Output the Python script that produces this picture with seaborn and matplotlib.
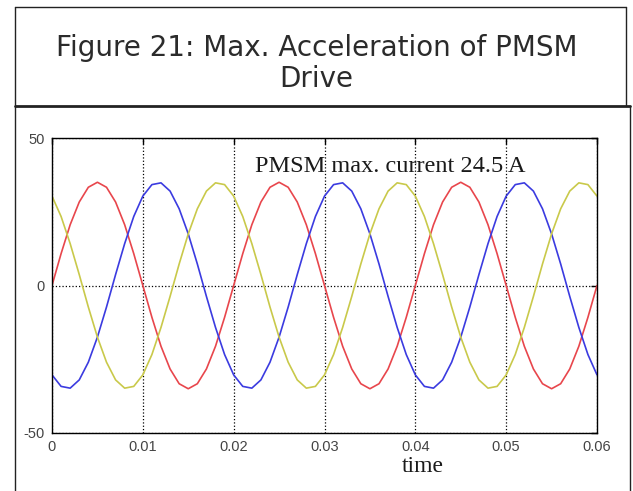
import numpy as np
import pandas as pd
import seaborn as sns
import matplotlib.pyplot as plt
from matplotlib.lines import Line2D

# phase currents, one sample per millisecond (0 .. 0.06 s)
time_s = np.round(np.arange(61) * 0.001, 3)

phase_red = [0.0, 10.8, 20.6, 28.3, 33.3, 35.0, 33.3, 28.3, 20.6, 10.8,
             0.0, -10.8, -20.6, -28.3, -33.3, -35.0, -33.3, -28.3, -20.6, -10.8,
             0.0, 10.8, 20.6, 28.3, 33.3, 35.0, 33.3, 28.3, 20.6, 10.8,
             0.0, -10.8, -20.6, -28.3, -33.3, -35.0, -33.3, -28.3, -20.6, -10.8,
             0.0, 10.8, 20.6, 28.3, 33.3, 35.0, 33.3, 28.3, 20.6, 10.8,
             0.0, -10.8, -20.6, -28.3, -33.3, -35.0, -33.3, -28.3, -20.6, -10.8,
             0.0]

phase_blue = [-30.3, -34.2, -34.8, -32.0, -26.0, -17.5, -7.3, 3.7, 14.2, 23.4,
              30.3, 34.2, 34.8, 32.0, 26.0, 17.5, 7.3, -3.7, -14.2, -23.4,
              -30.3, -34.2, -34.8, -32.0, -26.0, -17.5, -7.3, 3.7, 14.2, 23.4,
              30.3, 34.2, 34.8, 32.0, 26.0, 17.5, 7.3, -3.7, -14.2, -23.4,
              -30.3, -34.2, -34.8, -32.0, -26.0, -17.5, -7.3, 3.7, 14.2, 23.4,
              30.3, 34.2, 34.8, 32.0, 26.0, 17.5, 7.3, -3.7, -14.2, -23.4,
              -30.3]

phase_yellow = [30.3, 23.4, 14.2, 3.7, -7.3, -17.5, -26.0, -32.0, -34.8, -34.2,
                -30.3, -23.4, -14.2, -3.7, 7.3, 17.5, 26.0, 32.0, 34.8, 34.2,
                30.3, 23.4, 14.2, 3.7, -7.3, -17.5, -26.0, -32.0, -34.8, -34.2,
                -30.3, -23.4, -14.2, -3.7, 7.3, 17.5, 26.0, 32.0, 34.8, 34.2,
                30.3, 23.4, 14.2, 3.7, -7.3, -17.5, -26.0, -32.0, -34.8, -34.2,
                -30.3, -23.4, -14.2, -3.7, 7.3, 17.5, 26.0, 32.0, 34.8, 34.2,
                30.3]

x_ticks = [0, 0.01, 0.02, 0.03, 0.04, 0.05, 0.06]
x_labels = ['0', '0.01', '0.02', '0.03', '0.04', '0.05', '0.06']
y_ticks = [-50, 0, 50]
y_labels = ['-50', '0', '50']

df = pd.DataFrame({'time': np.tile(time_s, 3),
                   'current': phase_red + phase_blue + phase_yellow,
                   'phase': ['a'] * 61 + ['b'] * 61 + ['c'] * 61})

sns.set_style('white')
plt.rcParams['axes.unicode_minus'] = False

fig = plt.figure(figsize=(6.33, 4.91), dpi=100)
ax = fig.add_axes([52 / 633, 1 - 433 / 491, 545 / 633, 295 / 491])

sns.lineplot(data=df, x='time', y='current', hue='phase', ax=ax,
             palette=['#e8464c', '#3b3be0', '#c9c94a'], linewidth=1.2,
             legend=False, solid_joinstyle='round')

ax.set_xlim(0, 0.06)
ax.set_ylim(-50, 50)
ax.set_xticks(x_ticks)
ax.set_xticklabels(x_labels)
ax.set_yticks(y_ticks)
ax.set_yticklabels(y_labels)
ax.set_xlabel('')
ax.set_ylabel('')
ax.tick_params(direction='in', length=4, width=1, top=True, right=True,
               colors='black', labelcolor='#444444', labelsize=10.5, pad=5)
for lab in ax.get_xticklabels() + ax.get_yticklabels():
    lab.set_family('Liberation Sans')
for sp in ax.spines.values():
    sp.set_color('black')
    sp.set_linewidth(1.0)
ax.grid(True, color='black', linestyle=':', linewidth=0.9)

ax.text(0.0223, 38.5, 'PMSM max. current 24.5 A', family='Liberation Serif',
        fontsize=17.5, color='#1a1a1a', va='baseline', ha='left')
fig.text(423 / 633, 1 - 472 / 491, 'time', family='Liberation Serif',
         fontsize=17, color='#1a1a1a', va='baseline', ha='center')

# title cell
fig.text(0.5, 1 - 56 / 491, 'Figure 21: Max. Acceleration of PMSM',
         fontsize=20, color='#2b2b2b', ha='center', va='baseline')
fig.text(0.5, 1 - 87 / 491, 'Drive',
         fontsize=20, color='#2b2b2b', ha='center', va='baseline')

# table borders
def fline(x0, y0, x1, y1, lw):
    fig.add_artist(Line2D([x0 / 633, x1 / 633], [1 - y0 / 491, 1 - y1 / 491],
                          color='#222222', linewidth=lw))

fline(15, 7, 626, 7, 1.0)
fline(15, 7, 15, 491, 1.0)
fline(626, 7, 626, 106, 1.0)
fline(15, 106, 630, 106, 2.0)
fline(630, 106, 630, 491, 1.0)

fig.savefig('out.png', dpi=100)
